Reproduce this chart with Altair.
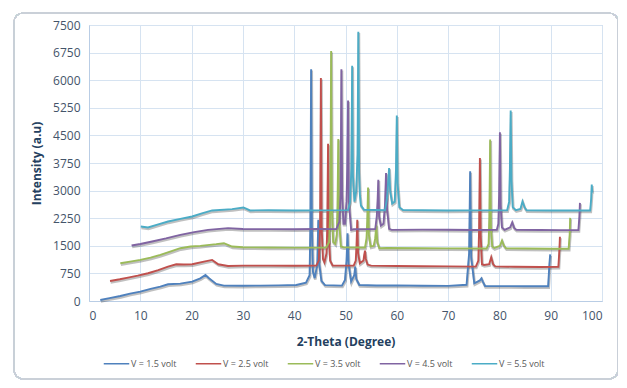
import altair as alt
import pandas as pd

series_names = ["V = 1.5 volt", "V = 2.5 volt", "V = 3.5 volt", "V = 4.5 volt", "V = 5.5 volt"]
series_colors = ["#4F81BD", "#C0504D", "#9BBB59", "#8064A2", "#4BACC6"]

theta_15 = [2.2, 4, 6.1, 8, 10, 12, 13.9, 15.4, 17.8, 20.1, 21.7, 22.7, 23.4, 24.8, 26.3, 30, 33.4, 37, 40.4,
            42.3, 43.0, 43.15, 43.3, 43.45, 43.65, 44.0, 44.5, 44.7, 44.9, 45.3, 46.0, 49.3, 49.9, 50.2, 50.4,
            50.6, 51.1, 51.7, 51.9, 52.1, 52.7, 56, 60, 65, 70, 73.6, 74.1, 74.3, 74.5, 75.1, 76.2, 76.5, 76.8,
            77.2, 80, 85, 89.5, 89.75, 89.9]
inten_15 = [27, 80, 136, 200, 254, 330, 390, 454, 472, 527, 617, 708, 617, 463, 418, 415, 418, 425, 436,
            500, 700, 2000, 6300, 2000, 800, 620, 1000, 2206, 1000, 550, 430, 418, 572, 1100, 1843,
            1000, 527, 700, 935, 600, 436, 420, 425, 415, 410, 440, 1300, 3523, 1200, 481, 560, 617, 520,
            409, 405, 400, 400, 1000, 1265]

theta_25 = [4.1, 6, 7.6, 9.5, 11.5, 13.5, 15.4, 17.0, 18.5, 20.1, 22.4, 24.0, 25.2, 27.1, 30, 35, 40, 44.3,
            44.8, 45.05, 45.2, 45.35, 45.6, 45.9, 46.3, 46.45, 46.6, 46.75, 47.0, 47.5, 51.6, 52.0, 52.15,
            52.3, 52.45, 52.8, 53.5, 53.65, 53.8, 53.95, 54.3, 55, 60, 65, 70, 75.4, 75.9, 76.05, 76.2, 76.35,
            76.6, 77.0, 78.0, 78.4, 78.8, 79.2, 83, 88, 91.5, 91.7, 91.8]
inten_25 = [545, 590, 636, 690, 754, 840, 935, 999, 990, 999, 1071, 1117, 999, 953, 960, 962, 958, 962,
            1100, 2000, 6060, 2000, 1150, 1050, 1300, 2000, 4270, 1800, 1100, 962, 960, 1100, 1500,
            2206, 1300, 1026, 1100, 1250, 1371, 1150, 990, 960, 950, 945, 940, 935, 1100, 2000, 3886, 1800,
            1000, 980, 1000, 1189, 990, 940, 930, 925, 930, 1400, 1744]

theta_35 = [6.1, 8, 10.0, 12, 13.9, 15.8, 17.8, 19.8, 21.7, 24.8, 26.3, 27.9, 30, 35, 40, 46.2, 46.8, 47.05,
            47.2, 47.35, 47.6, 48.0, 48.3, 48.45, 48.6, 48.75, 49.1, 49.6, 53.8, 54.1, 54.25, 54.4, 54.55,
            54.9, 55.5, 55.8, 56.0, 56.2, 56.6, 58, 65, 70, 77.5, 77.9, 78.05, 78.2, 78.35, 78.6, 79, 80.1,
            80.5, 80.9, 81.3, 85, 90, 93.5, 93.7, 93.8]
inten_35 = [1026, 1070, 1117, 1180, 1253, 1340, 1435, 1480, 1498, 1544, 1571, 1480, 1460, 1455, 1450, 1453,
            1600, 2500, 6790, 2500, 1600, 1550, 1800, 2600, 4404, 2200, 1480, 1460, 1455, 1700, 2200, 3087,
            1800, 1480, 1500, 1700, 2070, 1600, 1435, 1440, 1435, 1430, 1425, 1550, 2300, 4386, 2000, 1480,
            1440, 1500, 1643, 1500, 1430, 1425, 1420, 1420, 1800, 2259]

theta_45 = [8.3, 10, 12.3, 15, 17.8, 20.5, 23.2, 27.1, 30, 35, 40, 45, 48.2, 48.8, 49.05, 49.2, 49.35, 49.6,
            49.9, 50.2, 50.35, 50.5, 50.65, 51.1, 51.6, 55.8, 56.1, 56.25, 56.4, 56.55, 56.9, 57.4, 57.7,
            57.9, 58.1, 58.5, 59, 65, 70, 75, 79.5, 79.8, 79.95, 80.1, 80.25, 80.5, 81, 82.1, 82.5, 82.9,
            83.3, 88, 92, 95.4, 95.6, 95.7]
inten_45 = [1507, 1550, 1616, 1700, 1798, 1870, 1934, 1979, 1955, 1952, 1950, 1955, 1952, 2150, 2900, 6300,
            2900, 2100, 2100, 2700, 3600, 5450, 2700, 1934, 1950, 1952, 2300, 2700, 3296, 2300, 2050, 2100,
            2600, 3478, 2500, 1960, 1934, 1940, 1935, 1930, 1934, 2100, 2900, 4585, 2600, 2000, 1934, 2000,
            2134, 1980, 1934, 1930, 1925, 1925, 2300, 2666]

theta_55 = [10.1, 11.5, 13.5, 15.4, 17.8, 20.1, 22, 24.0, 27.9, 30.1, 31.4, 35, 40, 45, 50.5, 50.9, 51.15,
            51.3, 51.45, 51.75, 52.1, 52.35, 52.5, 52.65, 52.8, 53.0, 53.6, 57.7, 58.1, 58.3, 58.5, 58.7,
            59.1, 59.6, 59.85, 60.0, 60.15, 60.5, 61.2, 65, 70, 75, 81.5, 81.9, 82.05, 82.2, 82.35, 82.6,
            83.2, 84.1, 84.5, 84.9, 85.3, 90, 95, 97.7, 97.9, 98.0, 98.1]
inten_55 = [2025, 1998, 2080, 2161, 2230, 2297, 2380, 2461, 2497, 2542, 2461, 2465, 2460, 2462, 2470, 2700,
            3600, 6390, 3400, 2700, 3000, 4000, 7318, 3500, 2900, 2600, 2480, 2465, 2800, 3200, 3614, 3000,
            2650, 2700, 3600, 5039, 3200, 2550, 2470, 2465, 2460, 2462, 2462, 2700, 3600, 5176, 3300, 2550,
            2470, 2500, 2706, 2550, 2462, 2460, 2458, 2460, 2800, 3163, 2950]

x_ticks = list(range(0, 101, 10))
y_ticks = list(range(0, 7501, 750))

rows = []
for name, xs, ys in zip(series_names,
                        [theta_15, theta_25, theta_35, theta_45, theta_55],
                        [inten_15, inten_25, inten_35, inten_45, inten_55]):
    for i, (a, b) in enumerate(zip(xs, ys)):
        rows.append({"theta": a, "intensity": b, "series": name, "idx": i})
df = pd.DataFrame(rows)

font = "Open Sans"
x_enc = alt.X("theta:Q", scale=alt.Scale(domain=[0, 100], nice=False),
              axis=alt.Axis(values=x_ticks, title="2-Theta (Degree)", labelFontSize=12,
                            labelColor="#44546A", titleFontSize=12, titleColor="#243F60",
                            titleFontWeight="bold", labelPadding=9, titlePadding=15, tickSize=0,
                            grid=True))
y_enc = alt.Y("intensity:Q", scale=alt.Scale(domain=[0, 7500], nice=False),
              axis=alt.Axis(values=y_ticks, format="d", title="Intensity (a.u)", labelFontSize=12,
                            labelColor="#44546A", titleFontSize=12, titleColor="#243F60",
                            titleFontWeight="bold", labelPadding=9, titlePadding=9, tickSize=0,
                            grid=True))

shadow = alt.Chart(df).mark_line(strokeWidth=2.6, opacity=0.3, xOffset=0.6, yOffset=1.4, color="#303030").encode(
    x=x_enc, y=y_enc, detail="series:N", order="idx:Q")

lines = alt.Chart(df).mark_line(strokeWidth=1.9).encode(
    x=x_enc, y=y_enc,
    color=alt.Color("series:N", scale=alt.Scale(domain=series_names, range=series_colors),
                    legend=alt.Legend(title=None, orient="none", direction="horizontal",
                                      legendX=14, legendY=325, symbolType="stroke",
                                      symbolSize=650, symbolStrokeWidth=1.5, labelFontSize=9,
                                      labelColor="#595959", labelOffset=1, columnPadding=15,
                                      padding=0)),
    order="idx:Q")

frame = alt.Chart(df).mark_rect(fillOpacity=0, stroke="#C9D0D8", strokeWidth=1.2, cornerRadius=9,
                                clip=False).encode(
    x=alt.value(-75), x2=alt.value(529), y=alt.value(-12), y2=alt.value(354))

chart = alt.layer(frame, shadow, lines).properties(
    width=513, height=276,
    autosize=alt.AutoSizeParams(type="none"),
    padding={"left": 81, "top": 17, "right": 16, "bottom": 79},
).configure(font=font, background="white").configure_view(
    stroke="#B9CDE5", strokeWidth=1
).configure_axis(
    gridColor="#D6E3F1", domainColor="#B9CDE5", labelFont=font, titleFont=font
).configure_legend(labelFont=font)

chart.save("out.html", embed_options={"renderer": "svg", "actions": False})
